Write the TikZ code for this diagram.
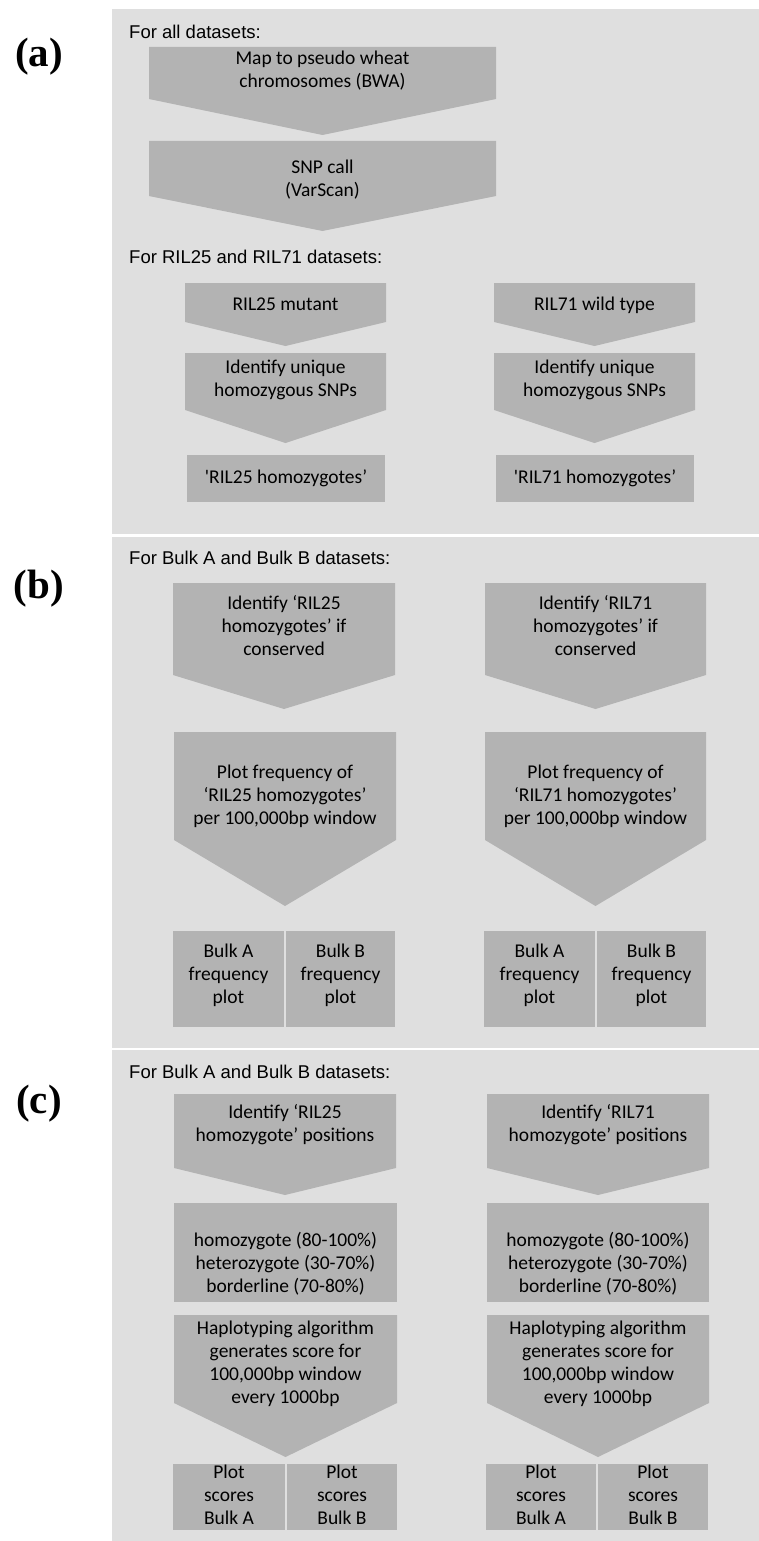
\documentclass[tikz,border=0pt]{standalone}
\usepackage{fontspec}
\newfontfamily\bodyfont[Ligatures=TeXOff]{Carlito}
\newfontfamily\headfont{Liberation Sans}
\newfontfamily\tagfont{Liberation Serif}
\definecolor{panelgray}{RGB}{223,223,223}
\definecolor{shapegray}{RGB}{179,179,179}

\tikzset{
  panel/.style={fill=panelgray},
  shape fill/.style={fill=shapegray},
  steptext/.style={font=\bodyfont\fontsize{19.5}{23}\selectfont, align=center,
    inner sep=0pt, text=black, execute at begin node=\strut, execute at end node=\strut},
  headtext/.style={font=\headfont\fontsize{18.5}{22}\selectfont, anchor=west,
    inner sep=0pt, text=black},
  tagtext/.style={font=\tagfont\bfseries\fontsize{41}{44}\selectfont, inner sep=0pt}
}

% chevron: name, left x, right x, top y, shoulder y, tip y, text y, text
\newcommand\stepchevron[8]{%
  \fill[shape fill] (#2,#4) -- (#3,#4) -- (#3,#5) -- ({(#2+#3)/2},#6) -- (#2,#5) -- cycle;
  \node[steptext] (#1) at ({(#2+#3)/2},#7) {#8};}

% plain box: name, left x, right x, top y, bottom y, text y, text
\newcommand\stepbox[7]{%
  \fill[shape fill] (#2,#4) rectangle (#3,#5);
  \node[steptext] (#1) at ({(#2+#3)/2},#6) {#7};}

\begin{document}
\begin{tikzpicture}[x=1pt,y=-1pt]
\useasboundingbox (0,0) rectangle (759,1541);
\fill[white] (0,0) rectangle (759,1541);

% panel backgrounds
\fill[panel] (112,9) rectangle (759,534);
\fill[panel] (112,537) rectangle (759,1048);
\fill[panel] (112,1050) rectangle (759,1541);

% ---------- (a) ----------
\node[tagtext] (tagA) at (39,57) {(a)};
\node[headtext] (headA1) at (129,32) {For all datasets:};
\stepchevron{map}{149}{496}{47}{99}{135}{72.5}{Map to pseudo wheat\\chromosomes (BWA)}
\stepchevron{snp}{149}{496}{141}{196}{231}{181.5}{SNP call\\(VarScan)}
\node[headtext] (headA2) at (129,257) {For RIL25 and RIL71 datasets:};
\stepchevron{mutant}{185}{386}{283}{322}{346}{306}{RIL25 mutant}
\stepchevron{wild}{494}{695}{283}{322}{346}{306}{RIL71 wild type}
\stepchevron{uniqA}{185}{386}{353}{410}{443}{381.5}{Identify unique\\homozygous SNPs}
\stepchevron{uniqB}{494}{695}{353}{410}{443}{381.5}{Identify unique\\homozygous SNPs}
\stepbox{homA}{187}{385}{455}{502}{478.5}{'RIL25 homozygotes’}
\stepbox{homB}{496}{694}{455}{502}{478.5}{'RIL71 homozygotes’}

% ---------- (b) ----------
\node[tagtext] (tagB) at (39,589) {(b)};
\node[headtext] (headB) at (129,558) {For Bulk A and Bulk B datasets:};
\stepchevron{consA}{173}{395}{583}{675}{709}{628.5}{Identify ‘RIL25\\homozygotes’ if\\conserved}
\stepchevron{consB}{485}{706}{583}{675}{709}{628.5}{Identify ‘RIL71\\homozygotes’ if\\conserved}
\stepchevron{freqA}{174}{396}{732}{840}{906}{798}{Plot frequency of\\‘RIL25 homozygotes’\\per 100,000bp window}
\stepchevron{freqB}{485}{706}{732}{840}{906}{798}{Plot frequency of\\‘RIL71 homozygotes’\\per 100,000bp window}
\stepbox{fAa}{173}{284}{931}{1027}{977}{Bulk A\\frequency\\plot}
\stepbox{fAb}{286}{395}{931}{1027}{977}{Bulk B\\frequency\\plot}
\stepbox{fBa}{484}{595}{931}{1027}{977}{Bulk A\\frequency\\plot}
\stepbox{fBb}{597}{706}{931}{1027}{977}{Bulk B\\frequency\\plot}

% ---------- (c) ----------
\node[tagtext] (tagC) at (39,1104) {(c)};
\node[headtext] (headC) at (129,1072) {For Bulk A and Bulk B datasets:};
\stepchevron{posA}{174}{396}{1094}{1168}{1195}{1126}{Identify ‘RIL25\\homozygote’ positions}
\stepchevron{posB}{487}{709}{1094}{1168}{1195}{1126}{Identify ‘RIL71\\homozygote’ positions}
\stepbox{classA}{174}{397}{1203}{1302}{1266}{homozygote (80-100\%)\\heterozygote (30-70\%)\\borderline (70-80\%)}
\stepbox{classB}{487}{709}{1203}{1302}{1266}{homozygote (80-100\%)\\heterozygote (30-70\%)\\borderline (70-80\%)}
\stepchevron{hapA}{174}{397}{1315}{1403}{1457}{1365.5}{Haplotyping algorithm\\generates score for\\100,000bp window\\every 1000bp}
\stepchevron{hapB}{487}{709}{1315}{1403}{1457}{1365.5}{Haplotyping algorithm\\generates score for\\100,000bp window\\every 1000bp}
\stepbox{sAa}{173}{285}{1464}{1530}{1498.5}{Plot\\scores\\Bulk A}
\stepbox{sAb}{287}{397}{1464}{1530}{1498.5}{Plot\\scores\\Bulk B}
\stepbox{sBa}{486}{596}{1464}{1530}{1498.5}{Plot\\scores\\Bulk A}
\stepbox{sBb}{598}{708}{1464}{1530}{1498.5}{Plot\\scores\\Bulk B}
\end{tikzpicture}
\end{document}
